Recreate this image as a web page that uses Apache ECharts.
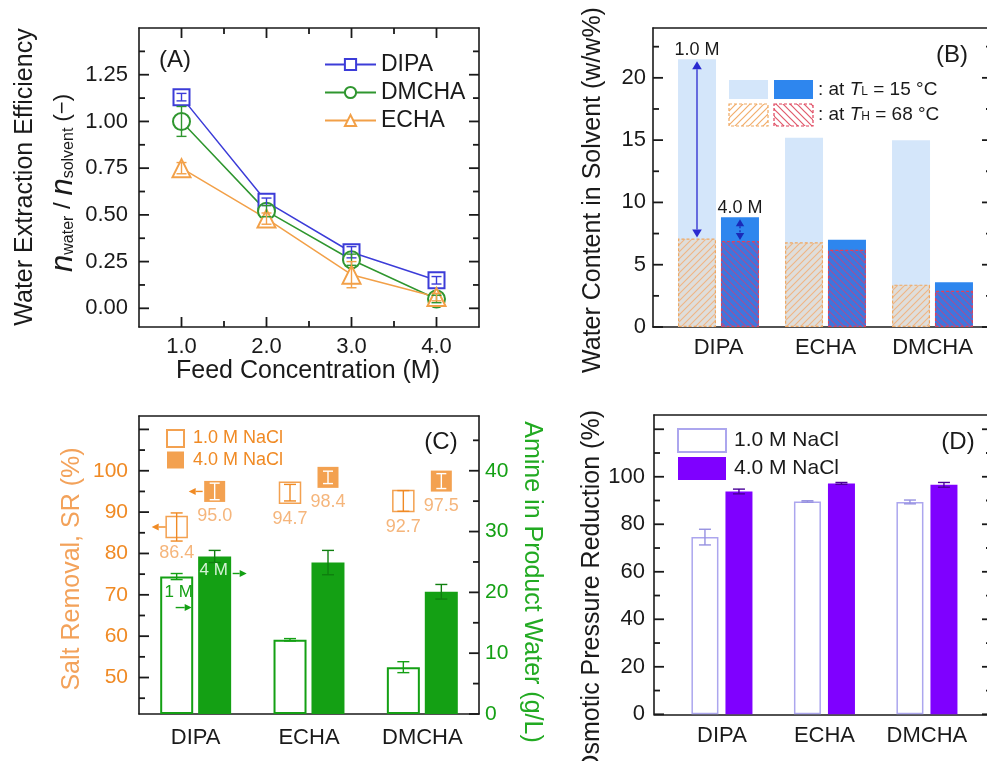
<!DOCTYPE html>
<html><head><meta charset="utf-8">
<script src="https://cdn.jsdelivr.net/npm/echarts@6/dist/echarts.min.js"></script>
<style>html,body{margin:0;padding:0;background:#fff}#c{width:987px;height:761px}</style>
</head><body><div id="c"></div>
<script>
// ================= DATA =================
// Panel A
const feedConc = [1.0, 2.0, 3.0, 4.0];
const effDIPA = [1.13, 0.57, 0.30, 0.15];
const errDIPA = [0.02, 0.02, 0.03, 0.02];
const effDMCHA = [1.00, 0.52, 0.26, 0.05];
const errDMCHA = [0.08, 0.03, 0.03, 0.02];
const effECHA = [0.75, 0.48, 0.18, 0.06];
const errECHA = [0.03, 0.03, 0.07, 0.02];
const ticksAx = [1, 2, 3, 4];
const minorAx = [1.5, 2.5, 3.5];
const labelsAy = [0, 0.25, 0.5, 0.75, 1.0, 1.25];
const ticksAy = [0, 0.25, 0.5, 0.75, 1.0, 1.25];
const minorAy = [0.125, 0.375, 0.625, 0.875, 1.125, 1.375];
// Panel B
const aminesB = ['DIPA', 'ECHA', 'DMCHA'];
const water1M_TL = [21.5, 15.2, 15.0];
const water4M_TL = [8.8, 7.0, 3.6];
const water1M_TH = [7.1, 6.8, 3.4];
const water4M_TH = [6.9, 6.2, 2.9];
const ticksBy = [0, 5, 10, 15, 20];
const minorBy = [2.5, 7.5, 12.5, 17.5, 22.5];
// Panel C
const aminesC = ['DIPA', 'ECHA', 'DMCHA'];
const sr1M = [86.4, 94.7, 92.7];
const sr1MErr = [3.4, 2.0, 2.5];
const sr4M = [95.0, 98.4, 97.5];
const sr4MErr = [2.0, 1.5, 1.8];
const amine1M = [22.6, 12.2, 7.7];
const amine1MErr = [0.5, 0.2, 0.9];
const amine4M = [25.9, 24.9, 20.1];
const amine4MErr = [1.0, 2.0, 1.2];
const labelsCl = [50, 60, 70, 80, 90, 100];
const ticksCl = [50, 60, 70, 80, 90, 100, 110];
const minorCl = [45, 55, 65, 75, 85, 95, 105];
const labelsCr = [0, 10, 20, 30, 40];
const minorCr = [5, 15, 25, 35, 45];
// Panel D
const aminesD = ['DIPA', 'ECHA', 'DMCHA'];
const opr1M = [74.6, 89.6, 89.4];
const opr1MErr = [3.3, 0.3, 0.8];
const opr4M = [93.8, 97.2, 96.6];
const opr4MErr = [1.0, 0.4, 1.0];
const labelsDy = [0, 20, 40, 60, 80, 100];
const ticksDy = [0, 20, 40, 60, 80, 100, 120];
const minorDy = [10, 30, 50, 70, 90, 110];

// ================= STYLE HELPERS =================
const FF = '"Liberation Sans", Arial, Helvetica, sans-serif';
const INK = '#1a1a1a';
const ORANGE = '#f08a24', ORANGE_L = '#f3a25a', GREEN = '#14a014', PURPLE = '#7f00ff', PURPLE_L = '#aca6ee';

function hatch(bg, fg, dir, s, lw) {
  const c = document.createElement('canvas'); c.width = s; c.height = s;
  const x = c.getContext('2d');
  if (bg) { x.fillStyle = bg; x.fillRect(0, 0, s, s); }
  x.strokeStyle = fg; x.lineWidth = lw; x.beginPath();
  if (dir === '/') {
    x.moveTo(0, s); x.lineTo(s, 0);
    x.moveTo(-1, 1); x.lineTo(1, -1);
    x.moveTo(s - 1, s + 1); x.lineTo(s + 1, s - 1);
  } else {
    x.moveTo(0, 0); x.lineTo(s, s);
    x.moveTo(-1, s - 1); x.lineTo(1, s + 1);
    x.moveTo(s - 1, -1); x.lineTo(s + 1, 1);
  }
  x.stroke();
  return {image: c, repeat: 'repeat'};
}
const pat1 = hatch('#dfdedb', '#efb585', '/', 7, 1.1);
const pat2 = hatch('#3d76de', '#a0509a', '\\', 7, 1.2);
const pat1L = hatch('#ffffff', '#f2ae6c', '/', 7, 1.2);
const pat2L = hatch('#ffffff', '#e05a6c', '\\', 7, 1.2);

function vAxis(o) {
  return {
    type: 'value', gridIndex: o.g, position: o.pos, min: o.min, max: o.max, show: o.show !== false,
    axisLine: {show: !!o.line, onZero: false, lineStyle: {color: INK, width: 1.6}},
    axisTick: {show: false},
    axisLabel: o.labels ? {show: true, customValues: o.labels, formatter: o.fmt, color: o.lc || INK, fontSize: o.fs || 22, fontFamily: FF, margin: o.margin || 10} : {show: false},
    splitLine: {show: false}
  };
}
function cAxis(o) {
  return {
    type: 'category', gridIndex: o.g, position: 'bottom', data: o.data, show: o.show !== false,
    axisLine: {show: !!o.line, onZero: false, lineStyle: {color: INK, width: 1.6}},
    axisTick: {show: false},
    axisLabel: {show: !!o.labels, color: INK, fontSize: 22, fontFamily: FF, margin: o.margin || 10, interval: 0},
    splitLine: {show: false}
  };
}
const xAxes = [], yAxes = [];
const addX = a => (xAxes.push(a), xAxes.length - 1);
const addY = a => (yAxes.push(a), yAxes.length - 1);

// ================= GRIDS =================
const GA = {x: 139, y: 28, w: 340, h: 299};
const GB = {x: 653, y: 28, w: 339, h: 299};
const GC = {x: 139, y: 416, w: 340, h: 298};
const GD = {x: 654, y: 415, w: 338, h: 299.3};
const grids = [
  {left: GA.x, top: GA.y, width: GA.w, height: GA.h},      // 0 A
  {left: GB.x, top: GB.y, width: GB.w, height: GB.h},      // 1 B frame
  {left: 665, top: GB.y, width: 321, height: GB.h},        // 2 B bars
  {left: GC.x, top: GC.y, width: GC.w, height: GC.h},      // 3 C
  {left: GD.x, top: GD.y, width: GD.w, height: GD.h},      // 4 D frame
  {left: 670.7, top: GD.y, width: 307.5, height: GD.h}     // 5 D bars
].map(g => Object.assign({containLabel: false, outerBoundsMode: 'none'}, g));

// axis ranges
const RAx = [0.5, 4.5], RAy = [-0.1, 1.5], RB = [0, 24], RCl = [41.18, 113.24], RCr = [0, 49], RD = [0, 126];

// ---- Axes A
const xA = addX(vAxis({g: 0, pos: 'bottom', min: RAx[0], max: RAx[1], line: true, labels: ticksAx, fmt: v => v.toFixed(1), margin: 9}));
addX(vAxis({g: 0, pos: 'top', min: RAx[0], max: RAx[1], line: true}));
const yA = addY(vAxis({g: 0, pos: 'left', min: RAy[0], max: RAy[1], line: true, labels: labelsAy, fmt: v => v.toFixed(2), margin: 11}));
addY(vAxis({g: 0, pos: 'right', min: RAy[0], max: RAy[1], line: true}));
// ---- Axes B
addX(vAxis({g: 1, pos: 'bottom', min: 0, max: 1, line: true}));
addX(vAxis({g: 1, pos: 'top', min: 0, max: 1, line: true}));
addY(vAxis({g: 1, pos: 'left', min: RB[0], max: RB[1], line: true, labels: ticksBy, margin: 7}));
addY(vAxis({g: 1, pos: 'right', min: RB[0], max: RB[1], line: true}));
const xB0 = addX(cAxis({g: 2, data: aminesB, labels: true, margin: 10}));
const xB1 = addX(cAxis({g: 2, data: aminesB, show: false}));
const yB = addY(vAxis({g: 2, pos: 'left', min: RB[0], max: RB[1], show: false}));
// ---- Axes C
const xC = addX(cAxis({g: 3, data: aminesC, labels: true, line: true, margin: 13}));
addX(vAxis({g: 3, pos: 'top', min: 0, max: 1, line: true}));
const yCl = addY(vAxis({g: 3, pos: 'left', min: RCl[0], max: RCl[1], line: true, labels: labelsCl, lc: ORANGE, fs: 21, margin: 11}));
const yCr = addY(vAxis({g: 3, pos: 'right', min: RCr[0], max: RCr[1], line: true, labels: labelsCr, lc: GREEN, fs: 21, margin: 6}));
// ---- Axes D
addX(vAxis({g: 4, pos: 'bottom', min: 0, max: 1, line: true}));
addX(vAxis({g: 4, pos: 'top', min: 0, max: 1, line: true}));
addY(vAxis({g: 4, pos: 'left', min: RD[0], max: RD[1], line: true, labels: labelsDy, margin: 9}));
addY(vAxis({g: 4, pos: 'right', min: RD[0], max: RD[1], line: true}));
const xD = addX(cAxis({g: 5, data: aminesD, labels: true, margin: 11}));
const yD = addY(vAxis({g: 5, pos: 'left', min: RD[0], max: RD[1], show: false}));

// ================= SERIES =================
function errSeries(name, xi, yi, data, offset, cap, color, z) {
  return {
    type: 'custom', name, xAxisIndex: xi, yAxisIndex: yi, z: z || 5, silent: true,
    encode: {x: 0, y: [1, 2]}, data,
    renderItem(params, api) {
      const a = api.coord([api.value(0), api.value(1)]);
      const b = api.coord([api.value(0), api.value(2)]);
      const x = a[0] + offset;
      const st = {stroke: color, lineWidth: 1.4};
      return {type: 'group', children: [
        {type: 'line', shape: {x1: x, y1: a[1], x2: x, y2: b[1]}, style: st},
        {type: 'line', shape: {x1: x - cap, y1: a[1], x2: x + cap, y2: a[1]}, style: st},
        {type: 'line', shape: {x1: x - cap, y1: b[1], x2: x + cap, y2: b[1]}, style: st}
      ]};
    }
  };
}
const errXY = (xs, vals, errs) => vals.map((v, i) => [xs[i], v - errs[i], v + errs[i]]);
const errIdx = (vals, errs) => vals.map((v, i) => [i, v - errs[i], v + errs[i]]);

function lineA(name, vals, color, symbol, size) {
  return {
    type: 'line', name, xAxisIndex: xA, yAxisIndex: yA, data: feedConc.map((x, i) => [x, vals[i]]),
    symbol, symbolSize: size, z: 3,
    lineStyle: {color, width: 1.5}, itemStyle: {color, borderWidth: 1.5}
  };
}
const C_DIPA = '#3c3cd8', C_DMCHA = '#2f962f', C_ECHA = '#f2a048';

const series = [
  // ---- A
  lineA('DIPA', effDIPA, C_DIPA, 'emptyRect', 16),
  lineA('DMCHA', effDMCHA, C_DMCHA, 'emptyCircle', 17),
  lineA('ECHA', effECHA, C_ECHA, 'emptyTriangle', 18),
  errSeries('errDIPA', xA, yA, errXY(feedConc, effDIPA, errDIPA), 0, 5, C_DIPA, 6),
  errSeries('errDMCHA', xA, yA, errXY(feedConc, effDMCHA, errDMCHA), 0, 5, C_DMCHA, 6),
  errSeries('errECHA', xA, yA, errXY(feedConc, effECHA, errECHA), 0, 5, C_ECHA, 6),
  // ---- B
  {type: 'bar', name: '1.0 M at TL', xAxisIndex: xB0, yAxisIndex: yB, barWidth: 38, barGap: '13%', z: 2,
   itemStyle: {color: '#d4e6fa'},
   data: water1M_TL.map((v, i) => i === 0 ? {value: v, label: {show: true, position: 'top', distance: 0, formatter: '1.0 M', color: INK, fontSize: 18, fontFamily: FF}} : v)},
  {type: 'bar', name: '4.0 M at TL', xAxisIndex: xB0, yAxisIndex: yB, barWidth: 38, barGap: '13%', z: 2,
   itemStyle: {color: '#2e86ee'},
   data: water4M_TL.map((v, i) => i === 0 ? {value: v, label: {show: true, position: 'top', distance: 0, formatter: '4.0 M', color: INK, fontSize: 18, fontFamily: FF}} : v)},
  {type: 'bar', name: '1.0 M at TH', xAxisIndex: xB1, yAxisIndex: yB, barWidth: 38, barGap: '13%', z: 3,
   itemStyle: {color: pat1, borderColor: '#f0a860', borderWidth: 1.2, borderType: [3, 2]}, data: water1M_TH},
  {type: 'bar', name: '4.0 M at TH', xAxisIndex: xB1, yAxisIndex: yB, barWidth: 38, barGap: '13%', z: 3,
   itemStyle: {color: pat2, borderColor: '#e0405a', borderWidth: 1.2, borderType: [3, 2]}, data: water4M_TH},
  // ---- C
  {type: 'bar', name: 'Amine 1 M', xAxisIndex: xC, yAxisIndex: yCr, barWidth: 33, barGap: '15%', z: 2,
   itemStyle: {color: '#ffffff', borderColor: GREEN, borderWidth: 2}, data: amine1M},
  {type: 'bar', name: 'Amine 4 M', xAxisIndex: xC, yAxisIndex: yCr, barWidth: 33, barGap: '15%', z: 2,
   itemStyle: {color: GREEN}, data: amine4M},
  errSeries('errAm1', xC, yCr, errIdx(amine1M, amine1MErr), -19, 6, GREEN, 4),
  errSeries('errAm4', xC, yCr, errIdx(amine4M, amine4MErr), 19, 6, '#0f7f0f', 4),
  {type: 'scatter', name: 'SR 1.0 M NaCl', xAxisIndex: xC, yAxisIndex: yCl, symbol: 'rect', symbolSize: 21, symbolOffset: [-19, 0], z: 6,
   itemStyle: {color: '#ffffff', borderColor: ORANGE, borderWidth: 1.5},
   label: {show: true, position: 'bottom', distance: 6, formatter: p => p.value[1].toFixed(1), color: ORANGE_L, fontSize: 18, fontFamily: FF},
   data: sr1M.map((v, i) => [i, v])},
  {type: 'scatter', name: 'SR 4.0 M NaCl', xAxisIndex: xC, yAxisIndex: yCl, symbol: 'rect', symbolSize: 21, symbolOffset: [19, 0], z: 6,
   itemStyle: {color: ORANGE},
   label: {show: true, position: 'bottom', distance: 5, formatter: p => p.value[1].toFixed(1), color: ORANGE_L, fontSize: 18, fontFamily: FF},
   data: sr4M.map((v, i) => [i, v])},
  errSeries('errSR1', xC, yCl, errIdx(sr1M, sr1MErr), -19, 6, ORANGE, 7),
  errSeries('errSR4', xC, yCl, errIdx(sr4M, sr4MErr), 19, 5, '#ffffff', 7),
  // ---- D
  {type: 'bar', name: '1.0 M NaCl', xAxisIndex: xD, yAxisIndex: yD, barWidth: 27, barGap: '26%', z: 2,
   itemStyle: {color: '#ffffff', borderColor: PURPLE_L, borderWidth: 1.5}, data: opr1M},
  {type: 'bar', name: '4.0 M NaCl', xAxisIndex: xD, yAxisIndex: yD, barWidth: 27, barGap: '26%', z: 2,
   itemStyle: {color: PURPLE}, data: opr4M},
  errSeries('errOP1', xD, yD, errIdx(opr1M, opr1MErr), -17, 6, '#9690e0', 4),
  errSeries('errOP4', xD, yD, errIdx(opr4M, opr4MErr), 17, 6, '#4a0099', 4)
];

const legends = [
  {data: ['DIPA', 'DMCHA', 'ECHA'], orient: 'vertical', left: 319, top: 48, itemWidth: 51, itemHeight: 14, itemGap: 5,
   selectedMode: false, textStyle: {fontSize: 23, fontFamily: FF, color: INK}},
  {data: ['SR 1.0 M NaCl', 'SR 4.0 M NaCl'], orient: 'vertical', left: 161, top: 424, itemWidth: 17, itemHeight: 17, itemGap: 3,
   selectedMode: false, formatter: n => n.replace('SR ', ''), textStyle: {fontSize: 18, fontFamily: FF, color: ORANGE, padding: [0, 0, 0, 4]}},
  {data: ['1.0 M NaCl', '4.0 M NaCl'], orient: 'vertical', left: 672, top: 423, itemWidth: 48, itemHeight: 23, itemGap: 4, icon: 'rect',
   selectedMode: false, textStyle: {fontSize: 21, fontFamily: FF, color: INK, padding: [0, 0, 0, 3]}}
];

const chart = echarts.init(document.getElementById('c'), null, {renderer: 'canvas'});
chart.setOption({
  animation: false, backgroundColor: '#ffffff',
  grid: grids, xAxis: xAxes, yAxis: yAxes, series, legend: legends
});

// ================= ANNOTATIONS / TITLES / TICKS =================
const Z = 100;
const P = (xi, yi, v) => chart.convertToPixel({xAxisIndex: xi, yAxisIndex: yi}, v);
function seg(x1, y1, x2, y2, color, lw, dash) {
  const st = {stroke: color || INK, lineWidth: lw || 1.4};
  if (dash) st.lineDash = dash;
  return {type: 'line', z: Z, silent: true, shape: {x1, y1, x2, y2}, style: st};
}
function grp(children) { return {type: 'group', z: Z, silent: true, children}; }
function txt(x, y, text, o) {
  o = o || {};
  return {type: 'text', x, y, rotation: o.rot || 0, z: Z, silent: true,
    style: {text, fill: o.color || INK, fontSize: o.fs || 25, fontFamily: FF, fontStyle: o.italic ? 'italic' : 'normal',
      align: o.align || 'center', verticalAlign: 'middle', rich: o.rich}};
}
function vArrow(cx, yTop, yBot, color, dashed, h) {
  const w = h * 0.6;
  return grp([
    seg(cx, yTop + h, cx, yBot - h, color, 1.3, dashed ? [2, 2] : null),
    {type: 'polygon', z: Z, shape: {points: [[cx, yTop], [cx - w, yTop + h], [cx + w, yTop + h]]}, style: {fill: color}},
    {type: 'polygon', z: Z, shape: {points: [[cx, yBot], [cx - w, yBot - h], [cx + w, yBot - h]]}, style: {fill: color}}
  ]);
}
function hArrow(x1, x2, y, color) {
  const d = Math.sign(x2 - x1), h = 7, w = 3.5;
  return grp([
    seg(x1, y, x2 - d * h, y, color, 1.4),
    {type: 'polygon', z: Z, shape: {points: [[x2, y], [x2 - d * h, y - w], [x2 - d * h, y + w]]}, style: {fill: color}}
  ]);
}
function rect(x, y, w, h, fill, stroke) {
  const st = {fill};
  if (stroke) { st.stroke = stroke; st.lineWidth = 1.2; st.lineDash = [3, 2]; }
  return {type: 'rect', z: Z, silent: true, shape: {x, y, width: w, height: h}, style: st};
}
// inward ticks as thin filled bars: linear position within each axis' own [min, max] range and grid box
const TW = 1.8;
function yTicks(out, G, R, vals, len, sides) {
  vals.forEach(v => {
    const y = G.y + G.h * (R[1] - v) / (R[1] - R[0]);
    if (sides !== 'right') out.push(rect(G.x, y - TW / 2, len, TW, INK));
    if (sides !== 'left') out.push(rect(G.x + G.w - len, y - TW / 2, len, TW, INK));
  });
}
function xTicks(out, G, R, vals, len) {
  vals.forEach(v => {
    const x = G.x + G.w * (v - R[0]) / (R[1] - R[0]);
    out.push(rect(x - TW / 2, G.y + G.h - len, TW, len, INK));
    out.push(rect(x - TW / 2, G.y, TW, len, INK));
  });
}

const g = [];
xTicks(g, GA, RAx, ticksAx, 10);
xTicks(g, GA, RAx, minorAx, 6);
yTicks(g, GA, RAy, ticksAy, 10);
yTicks(g, GA, RAy, minorAy, 6);
yTicks(g, GB, RB, ticksBy, 10);
yTicks(g, GB, RB, minorBy, 6);
yTicks(g, GC, RCl, ticksCl, 10, 'left');
yTicks(g, GC, RCl, minorCl, 6, 'left');
yTicks(g, GC, RCr, labelsCr, 10, 'right');
yTicks(g, GC, RCr, minorCr, 6, 'right');
yTicks(g, GD, RD, ticksDy, 10);
yTicks(g, GD, RD, minorDy, 6);

const subRich = {
  n: {fontSize: 31, fontStyle: 'italic', fontFamily: FF, fill: INK},
  s: {fontSize: 16, fontFamily: FF, verticalAlign: 'bottom', fill: INK, padding: [0, 0, 2, 0]},
  t: {fontSize: 24, fontFamily: FF, fill: INK},
  u: {fontSize: 22, fontFamily: FF, fill: INK}
};
const legRich = {
  a: {fontSize: 19, fontFamily: FF, fill: INK},
  i: {fontSize: 19, fontFamily: FF, fontStyle: 'italic', fill: INK},
  s: {fontSize: 12, fontFamily: FF, fill: INK, verticalAlign: 'bottom', padding: [0, 0, 2, 0]}
};

// Panel A
g.push(txt(25, 177, 'Water Extraction Efficiency', {rot: Math.PI / 2}));
g.push(txt(63, 183, '{n|n}{s|water}{t| / }{n|n}{s|solvent}{u| (−)}', {rot: Math.PI / 2, rich: subRich}));
g.push(txt(308, 371, 'Feed Concentration (M)'));
g.push(txt(175, 60, '(A)', {fs: 24}));
// Panel B
g.push(txt(593, 190, 'Water Content in Solvent (w/w%)', {rot: Math.PI / 2}));
g.push(txt(952, 55, '(B)', {fs: 24}));
g.push(rect(729, 80, 39, 19, '#d4e6fa'));
g.push(rect(774, 80, 39, 19, '#2e86ee'));
g.push(rect(729, 104, 39, 22, pat1L, '#f0a860'));
g.push(rect(774, 104, 39, 22, pat2L, '#e0405a'));
g.push(txt(818, 90, '{a|: at }{i|T}{s|L}{a| = 15 °C}', {align: 'left', rich: legRich}));
g.push(txt(818, 115, '{a|: at }{i|T}{s|H}{a| = 68 °C}', {align: 'left', rich: legRich}));
{
  const t1 = P(xB0, yB, [0, water1M_TL[0]]), b1 = P(xB0, yB, [0, water1M_TH[0]]);
  g.push(vArrow(t1[0] - 21.5, t1[1] + 2, b1[1] - 1, '#2a2ad0', false, 8));
  const t4 = P(xB0, yB, [0, water4M_TL[0]]), b4 = P(xB0, yB, [0, water4M_TH[0]]);
  g.push(vArrow(t4[0] + 21.5, t4[1] + 2, b4[1] - 1, '#1a2ab8', true, 7));
}
// Panel C
g.push(txt(72, 569, 'Salt Removal, SR (%)', {rot: Math.PI / 2, color: ORANGE_L}));
g.push(txt(532, 582, 'Amine in Product Water (g/L)', {rot: -Math.PI / 2, color: '#22aa22'}));
g.push(txt(441, 442, '(C)', {fs: 24}));
{
  const q1 = P(xC, yCl, [0, sr1M[0]]); const c1 = q1[0] - 19;
  g.push(hArrow(c1 - 11, c1 - 25, q1[1], ORANGE));
  const q2 = P(xC, yCl, [0, sr4M[0]]); const c2 = q2[0] + 19;
  g.push(hArrow(c2 - 12, c2 - 26, q2[1], ORANGE));
  const a4 = P(xC, yCr, [0, amine4M[0]]); const c4 = a4[0] + 19;
  g.push(txt(c4 - 1, a4[1] + 14, '4 M', {fs: 17, color: '#d6f3d6'}));
  g.push(hArrow(c4 + 18, c4 + 32, a4[1] + 17, GREEN));
  const a1 = P(xC, yCr, [0, amine1M[0]]); const cc = a1[0] - 19;
  g.push(txt(cc + 2, a1[1] + 16, '1 M', {fs: 17, color: GREEN}));
  g.push(hArrow(cc - 1, cc + 15, a1[1] + 31, GREEN));
}
// Panel D
g.push(txt(592, 592, 'Osmotic Pressure Reduction (%)', {rot: Math.PI / 2}));
g.push(txt(958, 442, '(D)', {fs: 24}));

chart.setOption({graphic: {elements: g}});
</script>
</body></html>
